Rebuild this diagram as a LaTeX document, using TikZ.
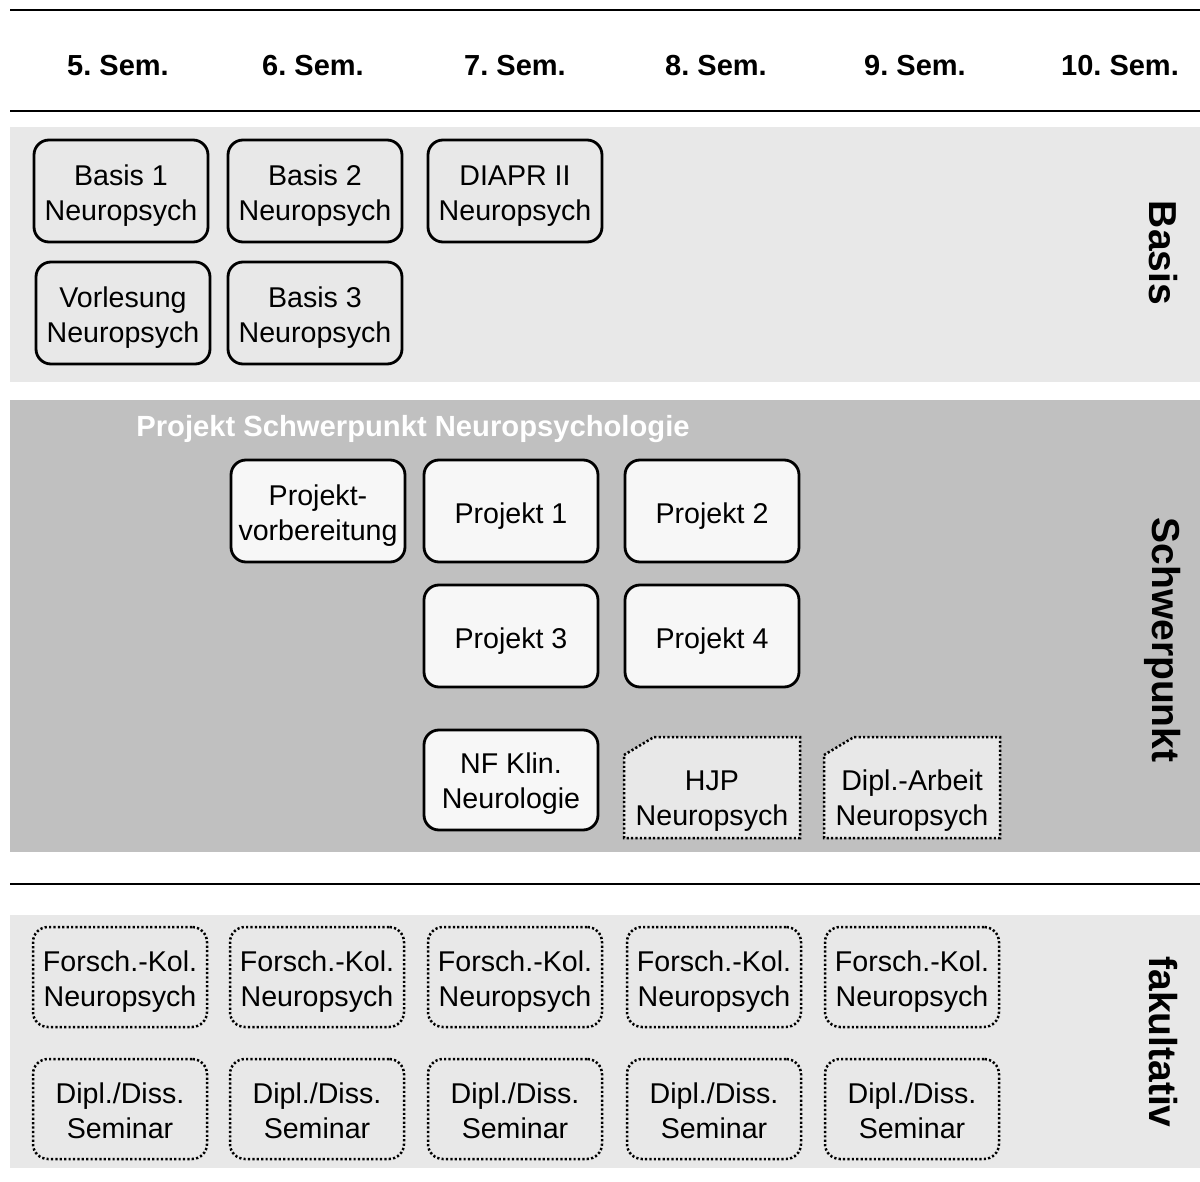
\documentclass[tikz,border=0pt]{standalone}
\usepackage{fontspec}
\setmainfont{Liberation Sans}
\frenchspacing
\usetikzlibrary{calc}
\definecolor{bandlight}{HTML}{E8E8E8}
\definecolor{banddark}{HTML}{C0C0C0}
\definecolor{boxfill}{HTML}{F7F7F7}
\def\txtrule{32.9pt}
\begin{document}
\begin{tikzpicture}[x=0.5pt,y=-0.5pt,
  txt/.style={font=\fontsize{14.3pt}{17.5pt}\selectfont, align=center, execute at begin node={\rule{0pt}{\txtrule}}},
  tr/.code={\def\txtrule{#1}},
  oneline/.style={tr=15.3pt},
  hdr/.style={font=\fontsize{14.5pt}{17pt}\selectfont\bfseries},
  side/.style={font=\fontsize{19.5pt}{22pt}\selectfont\bfseries, rotate=-90},
  solidbox/.style={txt, draw=black, line width=1.4pt, rounded corners=7.5pt, minimum width=87pt, minimum height=51pt, inner sep=0pt},
  projbox/.style={solidbox, fill=boxfill},
  dotbox/.style={txt, draw=black, line width=1.25pt, dash pattern=on 1.1pt off 1.1pt, rounded corners=7.5pt, minimum width=87pt, minimum height=50pt, inner sep=0pt},
  dotline/.style={draw=black, line width=1.25pt, dash pattern=on 1.1pt off 1.1pt},
  rule/.style={line width=1pt}
]
\useasboundingbox (0,0) rectangle (1200,1182);
% bands
\fill[bandlight] (10,127) rectangle (1200,382);
\fill[banddark] (10,400) rectangle (1200,852);
\fill[bandlight] (10,915) rectangle (1200,1168);
% rules
\coordinate (r1a) at (10,10); \coordinate (r1b) at (1200,10);
\coordinate (r2a) at (10,111); \coordinate (r2b) at (1200,111);
\coordinate (r3a) at (10,884); \coordinate (r3b) at (1200,884);
\draw[rule] (r1a) -- (r1b);
\draw[rule] (r2a) -- (r2b);
\draw[rule] (r3a) -- (r3b);
% header
\node[hdr] (s5) at (118,66) {5. Sem.};
\node[hdr] (s6) at (313,66) {6. Sem.};
\node[hdr] (s7) at (515,66) {7. Sem.};
\node[hdr] (s8) at (716,66) {8. Sem.};
\node[hdr] (s9) at (915,66) {9. Sem.};
\node[hdr] (s10) at (1120,66) {10. Sem.};
% side labels
\node[side] (lbasis) at (1163,253) {Basis};
\node[side] (lschwer) at (1163,640) {Schwerpunkt};
\node[side] (lfak) at (1163,1042) {fakultativ};
% Basis
\node[solidbox] (b1) at (121,191) {Basis 1\\Neuropsych};
\node[solidbox] (b2) at (315,191) {Basis 2\\Neuropsych};
\node[solidbox] (diapr) at (515,191) {DIAPR II\\Neuropsych};
\node[solidbox] (vorl) at (123,313) {Vorlesung\\Neuropsych};
\node[solidbox] (b3) at (315,313) {Basis 3\\Neuropsych};
% Schwerpunkt
\node[font=\fontsize{14.6pt}{17pt}\selectfont\bfseries, text=white] (ptitle) at (413,429) {Projekt Schwerpunkt Neuropsychologie};
\node[projbox] (pv) at (318,511) {Projekt-\\vorbereitung};
\node[projbox, oneline] (p1) at (511,511) {Projekt 1};
\node[projbox, oneline] (p2) at (712,511) {Projekt 2};
\node[projbox, oneline] (p3) at (511,636) {Projekt 3};
\node[projbox, oneline] (p4) at (712,636) {Projekt 4};
\node[projbox, minimum height=50pt, tr=31.9pt] (nf) at (511,780) {NF Klin.\\Neurologie};
% chamfered dotted boxes
\coordinate (hjpc) at (712,787.5);
\coordinate (diplc) at (912,787.5);
\foreach \n in {hjpc,diplc}{
  \draw[dotline, fill=bandlight] ($(\n)+(-44pt,16.25pt)$) -- ($(\n)+(-29pt,25.25pt)$) -- ($(\n)+(44pt,25.25pt)$) -- ($(\n)+(44pt,-25.25pt)$) -- ($(\n)+(-44pt,-25.25pt)$) -- cycle;
}
\node[txt, tr=40.9pt, minimum width=88pt, minimum height=50.5pt, inner sep=0pt] (hjp) at (hjpc) {HJP\\Neuropsych};
\node[txt, tr=40.9pt, minimum width=88pt, minimum height=50.5pt, inner sep=0pt] (dipl) at (diplc) {Dipl.-Arbeit\\Neuropsych};
% fakultativ
\node[dotbox] (f1) at (120,977) {Forsch.-Kol.\\Neuropsych};
\node[dotbox] (f2) at (317,977) {Forsch.-Kol.\\Neuropsych};
\node[dotbox] (f3) at (515,977) {Forsch.-Kol.\\Neuropsych};
\node[dotbox] (f4) at (714,977) {Forsch.-Kol.\\Neuropsych};
\node[dotbox] (f5) at (912,977) {Forsch.-Kol.\\Neuropsych};
\node[dotbox, tr=29.9pt] (d1) at (120,1109) {Dipl./Diss.\\Seminar};
\node[dotbox, tr=29.9pt] (d2) at (317,1109) {Dipl./Diss.\\Seminar};
\node[dotbox, tr=29.9pt] (d3) at (515,1109) {Dipl./Diss.\\Seminar};
\node[dotbox, tr=29.9pt] (d4) at (714,1109) {Dipl./Diss.\\Seminar};
\node[dotbox, tr=29.9pt] (d5) at (912,1109) {Dipl./Diss.\\Seminar};
\end{tikzpicture}
\end{document}
